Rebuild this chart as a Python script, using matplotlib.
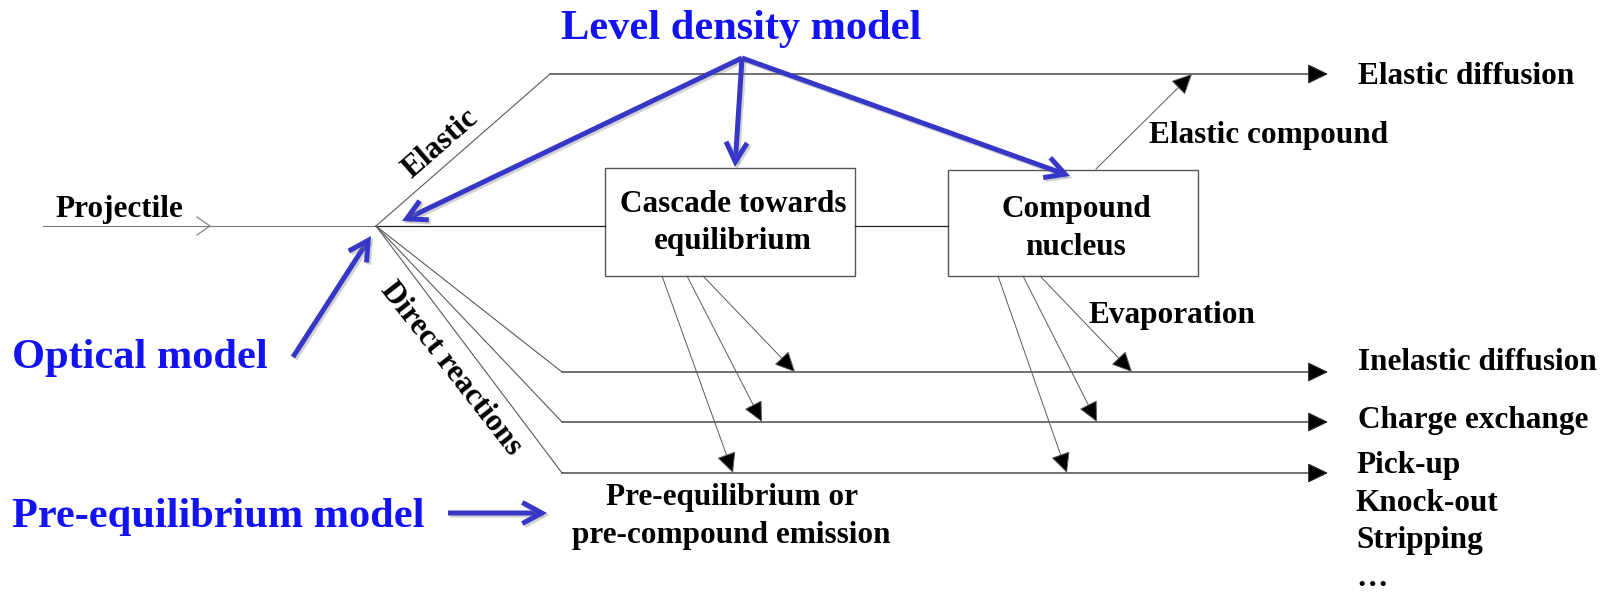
import matplotlib
matplotlib.use("Agg")
import matplotlib.pyplot as plt
import matplotlib.patheffects as pe
from matplotlib.patches import Rectangle

plt.rcParams['font.family'] = ['Liberation Serif', 'DejaVu Serif']
plt.rcParams['font.weight'] = 'bold'

# --- layout (pixel coords, y down) ---
vertex = (376, 226)
proj_start = 43
elastic_corner = (550, 74)
branch_x = 562
arrow_end_x = 1328

# output channels
channel_y = [74, 372, 422, 473]
out_labels = ["Elastic diffusion", "Inelastic diffusion", "Charge exchange"]
out_label_base = [84, 370, 428]
pick_labels = ["Pick-up", "Knock-out", "Stripping", "\u2026"]
pick_base = [473, 511, 548, 586]

# boxes: (x0, y0, x1, y1)
boxes = [(605, 168, 855, 276), (948, 170, 1198, 276)]
box_lines = [["Cascade towards", "equilibrium"], ["Compound", "nucleus"]]
box_base = [[212, 249], [217, 255]]

# emission lines from the boxes down to the channels
casc_start = [(662, 276), (687, 276), (703, 276)]
casc_tip = [(733, 473), (762, 422), (795, 372)]
comp_start = [(998, 276), (1023, 276), (1040, 276)]
comp_tip = [(1067, 473), (1097, 422), (1132, 372)]
el_comp = [(1096, 169), (1192, 74)]

# blue model arrows
ld_origin = (742, 58)
ld_tips = [(402, 221), (735, 167), (1070, 176)]
opt_arrow = [(293, 357), (371, 236)]
pre_arrow = [(448, 513), (547, 513)]

fig = plt.figure(figsize=(16.15, 5.93), dpi=100)
ax = fig.add_axes([0, 0, 1, 1])
ax.set_xlim(0, 1615)
ax.set_ylim(593, 0)
ax.axis('off')

LC = '#222222'
GC = '#5a5a5a'
FS = 22.5
BLUE_T = '#1212f2'
BLUE_A = '#3636c8'


def head(start, tip, lw=0.8, c=LC):
    # thin line with a filled black arrowhead
    ax.annotate("", xy=tip, xytext=start,
                arrowprops=dict(arrowstyle='-|>,head_length=0.64,head_width=0.31',
                                mutation_scale=20, lw=lw, ec=c, fc='black',
                                shrinkA=0, shrinkB=0))


# projectile
ax.plot([proj_start, vertex[0]], [vertex[1], vertex[1]], color='#777777', lw=0.8)
ax.plot([197, 210, 197], [217, 226, 235], color='#777777', lw=0.8)
ax.text(55, 217, "Projectile", fontsize=FS, ha='left', va='baseline')

# elastic route
ax.plot([vertex[0], elastic_corner[0]], [vertex[1], elastic_corner[1]], color=GC, lw=0.8)
head(elastic_corner, (arrow_end_x, channel_y[0]), lw=0.9)
ax.text(441, 144, "Elastic", fontsize=FS, rotation=41, ha='center', va='center',
        rotation_mode='anchor')

# main line through the boxes
ax.plot([vertex[0], boxes[0][0]], [vertex[1]] * 2, color=LC, lw=0.9)
ax.plot([boxes[0][2], boxes[1][0]], [vertex[1]] * 2, color=LC, lw=0.9)

for (x0, y0, x1, y1), lines, bases in zip(boxes, box_lines, box_base):
    ax.add_patch(Rectangle((x0, y0), x1 - x0, y1 - y0, fill=False, ec='#555555', lw=1.0))
    for t, b in zip(lines, bases):
        ax.text((x0 + x1) / 2 + 3, b, t, fontsize=FS, ha='center', va='baseline')

# direct reaction fan
for y in channel_y[1:]:
    ax.plot([vertex[0], branch_x], [vertex[1], y], color=GC, lw=0.8)
    head((branch_x, y), (arrow_end_x, y), lw=0.9)
ax.text(451, 369, "Direct reactions", fontsize=FS, rotation=-52, ha='center', va='center',
        rotation_mode='anchor')

# emissions
for s, t in zip(casc_start + comp_start, casc_tip + comp_tip):
    head(s, t, lw=0.7, c=GC)
head(el_comp[0], el_comp[1], lw=0.7, c=GC)
ax.text(1149, 143, "Elastic compound", fontsize=FS, ha='left', va='baseline')
ax.text(1089, 323, "Evaporation", fontsize=FS, ha='left', va='baseline')

# channel labels
for t, b in zip(out_labels, out_label_base):
    ax.text(1358, b, t, fontsize=FS, ha='left', va='baseline')
for t, b in zip(pick_labels, pick_base):
    ax.text(1356, b, t, fontsize=FS, ha='left', va='baseline')

ax.text(732, 505, "Pre-equilibrium or", fontsize=FS, ha='center', va='baseline')
ax.text(731, 543, "pre-compound emission", fontsize=FS, ha='center', va='baseline')

# models (blue)
ax.text(741, 39, "Level density model", fontsize=30.5, color=BLUE_T, ha='center', va='baseline')
ax.text(12, 368, "Optical model", fontsize=30.5, color=BLUE_T, ha='left', va='baseline')
ax.text(12, 527, "Pre-equilibrium model", fontsize=30.5, color=BLUE_T, ha='left', va='baseline')

shadow = [pe.SimpleLineShadow(offset=(1.5, -1.5), shadow_color='gray', alpha=0.35), pe.Normal()]


def blue(start, tip):
    a = ax.annotate("", xy=tip, xytext=start,
                    arrowprops=dict(arrowstyle='->,head_length=0.7,head_width=0.38',
                                    mutation_scale=20, lw=3.6, color=BLUE_A,
                                    shrinkA=0, shrinkB=0, capstyle='butt',
                                    joinstyle='miter'))
    a.arrow_patch.set_path_effects(shadow)


for tip in ld_tips:
    blue(ld_origin, tip)
blue(*opt_arrow)
blue(*pre_arrow)

fig.savefig("out.png", dpi=100)
